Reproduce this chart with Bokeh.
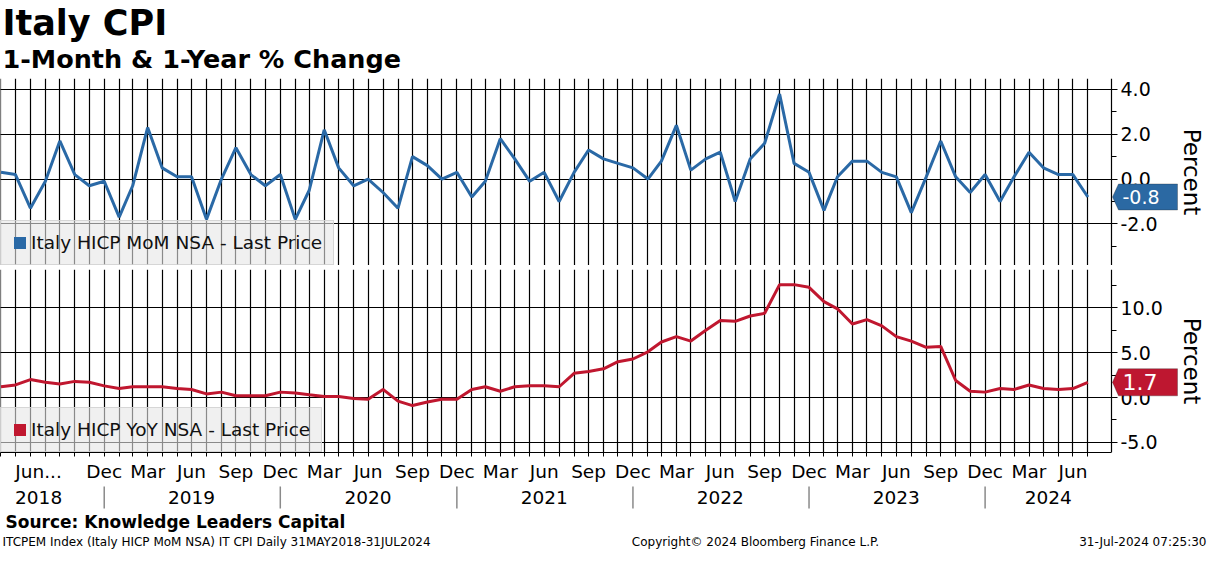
import pandas as pd
from bokeh.plotting import figure
from bokeh.layouts import column
from bokeh.models import (Range1d, FixedTicker, NumeralTickFormatter, Legend, LegendItem,
                          Label, PolyAnnotation, ColumnDataSource)
from bokeh.core.properties import value
from bokeh.embed import file_html
from bokeh.resources import INLINE

# ---------------- data ----------------
# monthly observations, May 2018 .. Jul 2024 (month-end)
dates = pd.date_range("2018-05-01", periods=75, freq="MS") + pd.offsets.MonthEnd(0)

mom = [0.3, 0.2, -1.3, -0.1, 1.7, 0.2, -0.3, -0.1,                       # 2018 May-Dec
       -1.7, -0.3, 2.3, 0.5, 0.1, 0.1, -1.8, 0.0, 1.4, 0.2, -0.3, 0.2,    # 2019
       -1.8, -0.5, 2.2, 0.5, -0.3, 0.0, -0.6, -1.3, 1.0, 0.6, 0.0, 0.3,   # 2020
       -0.8, -0.1, 1.8, 0.9, -0.1, 0.3, -1.0, 0.3, 1.3, 0.9, 0.7, 0.5,    # 2021
       0.0, 0.8, 2.4, 0.4, 0.9, 1.2, -1.0, 0.9, 1.6, 3.8, 0.7, 0.3,       # 2022
       -1.4, 0.1, 0.8, 0.8, 0.3, 0.1, -1.5, 0.1, 1.7, 0.1, -0.6, 0.2,     # 2023
       -1.0, 0.1, 1.2, 0.5, 0.2, 0.2, -0.8]                               # 2024 Jan-Jul

yoy = [1.2, 1.4, 2.0, 1.7, 1.5, 1.8, 1.7, 1.3,                            # 2018 May-Dec
       1.0, 1.2, 1.2, 1.2, 1.0, 0.9, 0.4, 0.6, 0.2, 0.2, 0.2, 0.6,        # 2019
       0.5, 0.3, 0.1, 0.1, -0.1, -0.2, 0.9, -0.4, -0.9, -0.5, -0.2, -0.2, # 2020
       0.9, 1.2, 0.7, 1.2, 1.3, 1.3, 1.2, 2.7, 2.9, 3.2, 4.0, 4.3,        # 2021
       5.1, 6.2, 6.8, 6.3, 7.5, 8.6, 8.5, 9.1, 9.4, 12.6, 12.6, 12.3,     # 2022
       10.7, 9.9, 8.2, 8.7, 8.0, 6.8, 6.3, 5.6, 5.7, 1.9, 0.7, 0.6,       # 2023
       1.0, 0.9, 1.4, 1.0, 0.9, 1.0, 1.7]                                 # 2024 Jan-Jul

mom_name = "Italy HICP MoM NSA - Last Price"
yoy_name = "Italy HICP YoY NSA - Last Price"

mom_ticks = [-2.0, 0.0, 2.0, 4.0]
mom_minor = [-3.0, -1.0, 1.0, 3.0]
yoy_ticks = [-5.0, 0.0, 5.0, 10.0]
yoy_minor = [-2.5, 2.5, 7.5, 12.5]

month_label_text = ["Jun..."] + ["Dec", "Mar", "Jun", "Sep"] * 5 + ["Dec", "Mar", "Jun"]
month_label_dates = ["2018-08-17"] + list(
    (pd.date_range("2018-12-01", "2024-06-01", freq="3MS") + pd.offsets.MonthEnd(0)).strftime("%Y-%m-%d"))
year_labels = ["2018", "2019", "2020", "2021", "2022", "2023", "2024"]
year_label_dates = ["2018-08-17", "2019-06-30", "2020-06-30", "2021-06-30",
                    "2022-06-30", "2023-06-30", "2024-05-10"]
year_separators = ["2018-12-31", "2019-12-31", "2020-12-31", "2021-12-31", "2022-12-31", "2023-12-31"]

# ---------------- style / layout ----------------
W = 1208
FW = 1111          # pixel position of the value axis
FONT = "DejaVu Sans"
BLUE = "#2a69a6"
RED = "#c0172f"
TAG_BLUE = "#2b69a3"
TAG_RED = "#be1730"
AXIS_H = 26        # estimated height of the month-label axis


def ms(d):
    return int(pd.Timestamp(d).value // 1_000_000)


month_ms = [ms(d) for d in dates]
x_start = ms("2018-05-30")
x_axis_pos = ms("2024-09-18")            # where the value axis sits
ms_px = (x_axis_pos - x_start) / FW
x_end = x_start + ms_px * W
xr = Range1d(x_start, x_end)


def blank(h, xrange=None, yrange=None, **kw):
    p = figure(width=W, height=h, output_backend="svg", toolbar_location=None,
               x_axis_location=None, y_axis_location=None, min_border=0,
               outline_line_color=None, x_range=xrange or Range1d(0, W),
               y_range=yrange or Range1d(h, 0), **kw)
    p.grid.visible = False
    return p


# header
p0 = blank(78)
p0.text(x=[2], y=[22], text=["Italy CPI"], text_font=value(FONT), text_font_size="35px",
        text_font_style="bold", text_baseline="middle", text_align="left", text_color="black")
p0.text(x=[2], y=[58], text=["1-Month & 1-Year % Change"], text_font=value(FONT),
        text_font_size="25.5px", text_font_style="bold", text_baseline="middle",
        text_align="left", text_color="black")


def panel(h, yvals, yrng, ticks, minor, color, tag_color, name, standoff, tag_font, tag_half,
          xaxis=False):
    p = figure(width=W, height=h, x_range=xr, y_range=Range1d(*yrng), x_axis_type="datetime",
               x_axis_location="below" if xaxis else None, y_axis_location="right",
               output_backend="svg", toolbar_location=None, min_border=0,
               outline_line_color=None, background_fill_color="white")
    p.xgrid.ticker = FixedTicker(ticks=month_ms)
    p.xgrid.grid_line_color = "black"
    p.xgrid.grid_line_width = 1.2
    p.ygrid.visible = False

    ax = p.yaxis[0]
    ax.fixed_location = x_axis_pos
    ax.ticker = FixedTicker(ticks=ticks, minor_ticks=minor)
    ax.formatter = NumeralTickFormatter(format="0.0")
    ax.axis_line_color = "black"
    ax.axis_line_width = 1.2
    ax.major_tick_out = 6
    ax.major_tick_in = FW + 2      # ticks drawn across the panel act as horizontal grid lines
    ax.major_tick_line_width = 1.2
    ax.minor_tick_out = 5
    ax.minor_tick_in = 0
    ax.major_label_standoff = 3
    ax.major_label_text_font = FONT
    ax.major_label_text_font_size = "19px"
    ax.major_label_text_color = "black"
    ax.axis_label = "Percent"
    ax.axis_label_text_font = FONT
    ax.axis_label_text_font_size = "23px"
    ax.axis_label_text_font_style = "normal"
    ax.axis_label_text_color = "black"
    ax.axis_label_standoff = standoff

    src = ColumnDataSource(dict(x=dates, y=yvals))
    ln = p.line(x="x", y="y", source=src, line_color=color, line_width=3)
    ln.level = "annotation"

    # zero-area quads: only used to get a filled square in the legend
    sq = p.quad(left="x", right="x", bottom="y", top="y", source=src, fill_color=color,
                line_color=color, line_alpha=0.0)
    leg = Legend(items=[LegendItem(label=name, renderers=[sq])], location="bottom_left",
                 margin=0, padding=11, spacing=0, glyph_width=15, glyph_height=15,
                 label_standoff=4, label_height=21, label_text_font=FONT,
                 label_text_font_size="18.5px", label_text_color="#111111",
                 background_fill_color="#e6e6e6", background_fill_alpha=0.6,
                 border_line_color="#d0d0d0", border_line_alpha=0.8)
    p.add_layout(leg)

    # last-value tag
    last = yvals[-1]
    upp = (yrng[1] - yrng[0]) / 189.0 if xaxis else (yrng[1] - yrng[0]) / h
    hh = tag_half * upp
    xs = [x_axis_pos + 1 * ms_px, x_axis_pos + 7 * ms_px, x_axis_pos + 66 * ms_px,
          x_axis_pos + 66 * ms_px, x_axis_pos + 7 * ms_px]
    ys = [last, last + hh, last + hh, last - hh, last - hh]
    p.add_layout(PolyAnnotation(xs=xs, ys=ys, fill_color=tag_color, fill_alpha=1.0,
                                line_color="#222222", line_width=1, level="overlay"))
    p.add_layout(Label(x=x_axis_pos + 11 * ms_px, y=last, text=f"{last:.1f}", text_color="white",
                       text_font=FONT, text_font_size=tag_font, text_baseline="middle",
                       text_align="left", level="overlay"))

    if xaxis:
        xa = p.xaxis[0]
        label_ms = [ms(d) for d in month_label_dates]
        xa.ticker = FixedTicker(ticks=label_ms, minor_ticks=month_ms)
        overrides = {}
        for k, t in zip(label_ms, month_label_text):
            overrides[k] = t
            overrides[str(k)] = t
        xa.major_label_overrides = overrides
        xa.bounds = (x_start, x_axis_pos)
        xa.major_tick_out = 0
        xa.major_tick_in = 0
        xa.minor_tick_out = 4
        xa.minor_tick_in = 0
        xa.minor_tick_line_color = "black"
        xa.axis_line_color = "black"
        xa.axis_line_width = 1.2
        xa.major_label_standoff = 4
        xa.major_label_text_font = FONT
        xa.major_label_text_font_size = "18.5px"
        xa.major_label_text_color = "black"
    return p


p1 = panel(187, mom, (-3.86, 4.49), mom_ticks, mom_minor, BLUE, TAG_BLUE, mom_name, 18, "19px", 13)

psep = blank(4, background_fill_color="#3c3c3c", border_fill_color="#3c3c3c")

p2 = panel(189 + AXIS_H, yoy, (-6.14, 14.29), yoy_ticks, yoy_minor, RED, TAG_RED, yoy_name, 13,
           "22px", 14, xaxis=True)

# year strip
SH = 55 - AXIS_H
p3 = figure(width=W, height=SH, x_range=xr, y_range=Range1d(SH, 0), x_axis_type="datetime",
            x_axis_location=None, y_axis_location=None, output_backend="svg",
            toolbar_location=None, min_border=0, outline_line_color=None)
p3.grid.visible = False
ysrc = ColumnDataSource(dict(x=[pd.Timestamp(d) for d in year_label_dates],
                             y=[39 - AXIS_H] * len(year_labels), t=year_labels))
p3.text(x="x", y="y", text="t", source=ysrc, text_font=value(FONT), text_font_size="18.5px",
        text_baseline="middle", text_align="center", text_color="black")
ssrc = ColumnDataSource(dict(x=[pd.Timestamp(d) for d in year_separators]))
p3.segment(x0="x", y0=28 - AXIS_H, x1="x", y1=50 - AXIS_H, source=ssrc,
           line_color="#8a8a8a", line_width=1.5)

# footer
p4 = blank(37)
p4.text(x=[5], y=[8.5], text=["Source: Knowledge Leaders Capital"], text_font=value(FONT),
        text_font_size="17px", text_font_style="bold", text_baseline="middle", text_align="left",
        text_color="black")
p4.text(x=[2], y=[28], text=["ITCPEM Index (Italy HICP MoM NSA) IT CPI  Daily 31MAY2018-31JUL2024"],
        text_font=value(FONT), text_font_size="12px", text_baseline="middle", text_align="left",
        text_color="black")
p4.text(x=[755], y=[28], text=["Copyright\u00a9 2024 Bloomberg Finance L.P."],
        text_font=value(FONT), text_font_size="12px", text_baseline="middle", text_align="center",
        text_color="black")
p4.text(x=[1206], y=[28], text=["31-Jul-2024 07:25:30"],
        text_font=value(FONT), text_font_size="12px", text_baseline="middle", text_align="right",
        text_color="black")

layout = column(p0, p1, psep, p2, p3, p4, spacing=0)
open("out.html", "w").write(file_html(layout, INLINE, "Italy CPI"))
